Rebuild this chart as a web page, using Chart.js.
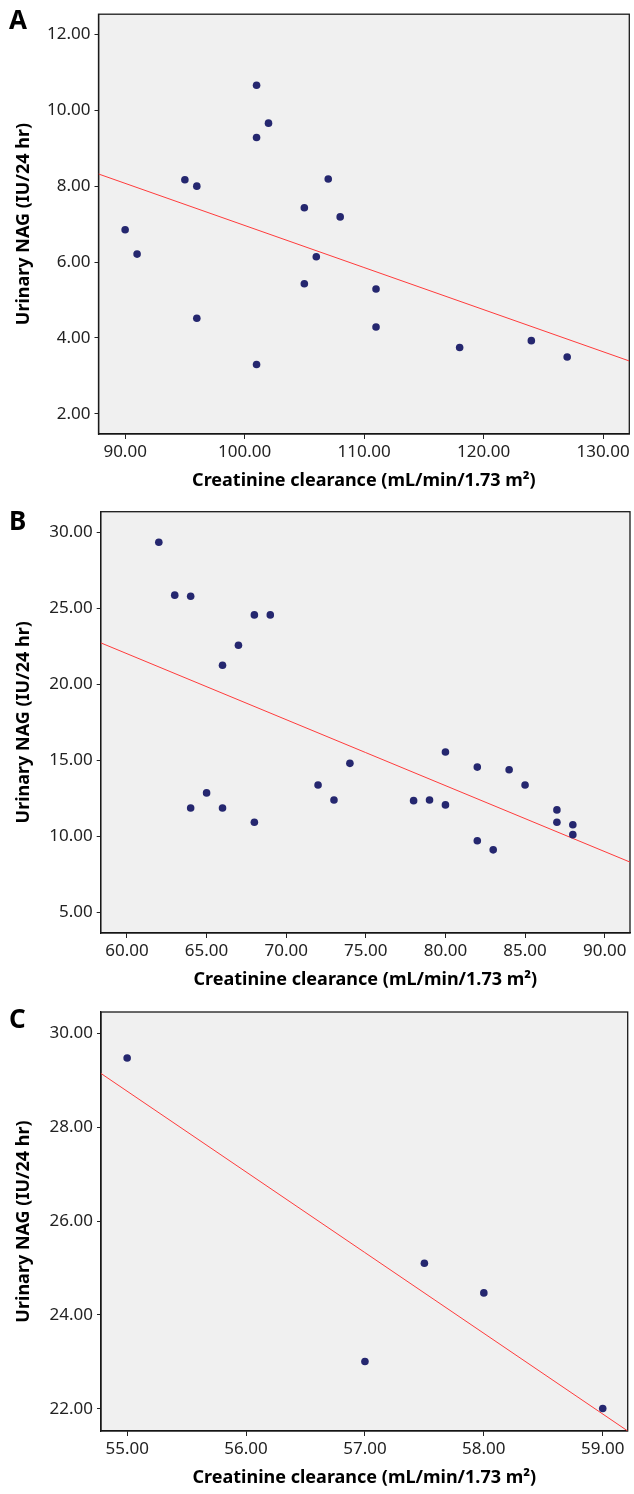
<!DOCTYPE html>
<html>
<head>
<meta charset="utf-8">
<script src="https://cdn.jsdelivr.net/npm/chart.js@4.4.1/dist/chart.umd.min.js"></script>
<style>
  body { margin: 0; background: #fff; }
  .panel { position: absolute; left: 0; width: 634px; }
  .letter { position: absolute; left: 9px; font: bold 26px 'Noto Sans', sans-serif; line-height: 26px; color: #000; }
</style>
</head>
<body>
<div class="panel" style="top:0px;height:495px"><canvas id="chartA" width="634" height="495"></canvas></div>
<div class="panel" style="top:495px;height:498px"><canvas id="chartB" width="634" height="498"></canvas></div>
<div class="panel" style="top:993px;height:501px"><canvas id="chartC" width="634" height="501"></canvas></div>
<div class="letter" style="top:6px">A</div>
<div class="letter" style="top:507px">B</div>
<div class="letter" style="top:1005px">C</div>
<script>
// panel A
const xA = [90, 91, 95, 96, 96, 101, 101, 101, 102, 105, 105, 106, 107, 108, 111, 111, 118, 124, 127];
const yA = [6.85, 6.21, 8.17, 8.00, 4.52, 10.66, 9.28, 3.30, 9.66, 7.43, 5.43, 6.14, 8.19, 7.19, 5.29, 4.29, 3.75, 3.93, 3.50];
const xTicksA = [90, 100, 110, 120, 130];
const yTicksA = [2, 4, 6, 8, 10, 12];
const xRangeA = [87.77, 132.2];
const yRangeA = [1.47, 12.53];

// panel B
const xB = [62, 63, 64, 66, 67, 68, 69, 64, 65, 66, 68, 72, 73, 74, 78, 79, 80, 80, 82, 82, 83, 84, 85, 87, 87, 88, 88];
const yB = [29.37, 25.88, 25.81, 21.26, 22.58, 24.58, 24.58, 11.86, 12.85, 11.86, 10.92, 13.37, 12.38, 14.80, 12.34, 12.38, 12.06, 15.55, 14.55, 9.70, 9.10, 14.38, 13.37, 11.73, 10.92, 10.75, 10.10];
const xTicksB = [60, 65, 70, 75, 80, 85, 90];
const yTicksB = [5, 10, 15, 20, 25, 30];
const xRangeB = [58.35, 91.59];
const yRangeB = [3.62, 31.38];

// panel C
const xC = [55, 57, 57.5, 58, 59];
const yC = [29.47, 23.01, 25.10, 24.47, 22.01];
const xTicksC = [55, 56, 57, 58, 59];
const yTicksC = [22, 24, 26, 28, 30];
const xRangeC = [54.78, 59.21];
const yRangeC = [21.53, 30.45];

const xTitle = "Creatinine clearance (mL/min/1.73 m\u00B2)";
const yTitle = "Urinary NAG (IU/24 hr)";

// least squares fit line
function fitLine(xs, ys) {
  const n = xs.length;
  const mx = xs.reduce((a, b) => a + b, 0) / n;
  const my = ys.reduce((a, b) => a + b, 0) / n;
  let sxy = 0, sxx = 0;
  for (let i = 0; i < n; i++) {
    sxy += (xs[i] - mx) * (ys[i] - my);
    sxx += (xs[i] - mx) * (xs[i] - mx);
  }
  const b = sxy / sxx;
  return x => my + b * (x - mx);
}

const frame = {
  id: "frame",
  beforeDraw(chart) {
    const { ctx, chartArea: a } = chart;
    ctx.save();
    ctx.fillStyle = "#f0f0f0";
    ctx.fillRect(a.left, a.top, a.right - a.left, a.bottom - a.top);
    ctx.restore();
  },
  beforeDatasetsDraw(chart) {
    const { ctx, chartArea: a } = chart;
    ctx.save();
    ctx.strokeStyle = "#1a1a1a";
    ctx.lineWidth = 1.3;
    ctx.strokeRect(a.left, a.top, a.right - a.left, a.bottom - a.top);
    ctx.restore();
  }
};

function makePanel(id, xs, ys, xTicks, yTicks, xRange, yRange, g) {
  const f = fitLine(xs, ys);
  const canvas = document.getElementById(id);
  const W = canvas.width, H = canvas.height;
  new Chart(canvas, {
    type: "scatter",
    data: {
      datasets: [
        {
          data: xs.map((x, i) => ({ x: x, y: ys[i] })),
          backgroundColor: "#25276f",
          borderWidth: 0,
          pointRadius: 3.8
        },
        {
          data: [{ x: xRange[0], y: f(xRange[0]) }, { x: xRange[1], y: f(xRange[1]) }],
          showLine: true,
          borderColor: "#ff3b3b",
          borderWidth: 1,
          pointRadius: 0
        }
      ]
    },
    options: {
      responsive: false,
      animation: false,
      events: [],
      layout: { padding: { left: 0, top: g.top, right: W - g.right, bottom: 0 } },
      plugins: { legend: { display: false }, tooltip: { enabled: false } },
      scales: {
        x: {
          type: "linear",
          min: xRange[0],
          max: xRange[1],
          afterFit: s => { s.height = H - g.bottom; },
          afterBuildTicks: s => { s.ticks = xTicks.map(v => ({ value: v })); },
          grid: { drawOnChartArea: false, drawTicks: true, tickLength: 5, color: "#222" },
          border: { display: true, color: "#111", width: 1.3 },
          ticks: {
            padding: 3,
            color: "#222",
            font: { family: "'Noto Sans', sans-serif", size: 17 },
            callback: v => Number(v).toFixed(2)
          },
          title: {
            display: true,
            text: xTitle,
            color: "#000",
            font: { family: "'Noto Sans', sans-serif", size: 18, weight: "bold" },
            padding: { top: 0, bottom: g.titlePad }
          }
        },
        y: {
          type: "linear",
          min: yRange[0],
          max: yRange[1],
          afterFit: s => { s.width = g.left; },
          afterBuildTicks: s => { s.ticks = yTicks.map(v => ({ value: v })); },
          grid: { drawOnChartArea: false, drawTicks: true, tickLength: 4, color: "#222" },
          border: { display: true, color: "#111", width: 1.3 },
          ticks: {
            padding: 4,
            color: "#222",
            font: { family: "'Noto Sans', sans-serif", size: 17 },
            callback: v => Number(v).toFixed(2)
          },
          title: {
            display: true,
            text: yTitle,
            color: "#000",
            font: { family: "'Noto Sans', sans-serif", size: 18, weight: "bold" },
            padding: { top: 13, bottom: 0 }
          }
        }
      }
    },
    plugins: [frame]
  });
}

makePanel("chartA", xA, yA, xTicksA, yTicksA, xRangeA, yRangeA,
  { left: 98.5, right: 629.3, top: 14, bottom: 434, titlePad: 3 });
makePanel("chartB", xB, yB, xTicksB, yTicksB, xRangeB, yRangeB,
  { left: 100.7, right: 630.3, top: 16.7, bottom: 438, titlePad: 2 });
makePanel("chartC", xC, yC, xTicksC, yTicksC, xRangeC, yRangeC,
  { left: 101, right: 627.7, top: 19, bottom: 438, titlePad: 5 });
</script>
</body>
</html>
